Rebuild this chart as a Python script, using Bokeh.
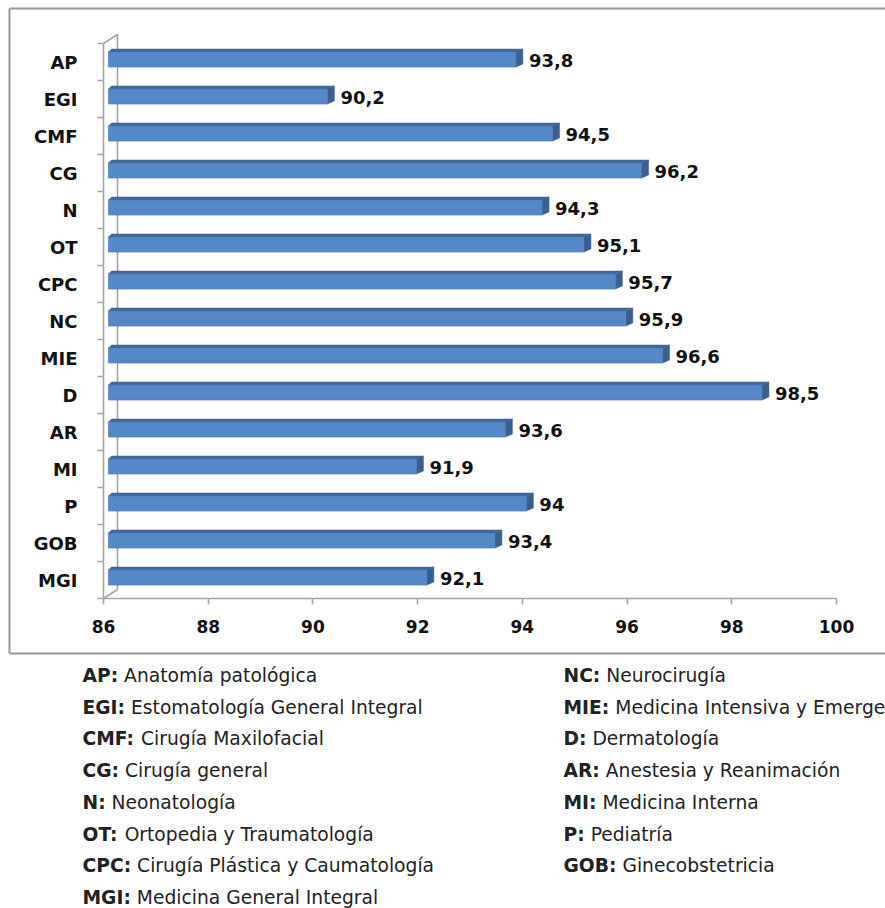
from bokeh.plotting import figure
from bokeh.models import FixedTicker, Range1d, ColumnDataSource, LinearAxis
from bokeh.embed import file_html
from bokeh.resources import INLINE
from bokeh.core.properties import value

# ---------------- data ----------------
categories = ["AP", "EGI", "CMF", "CG", "N", "OT", "CPC", "NC", "MIE", "D", "AR", "MI", "P", "GOB", "MGI"]
values = [93.8, 90.2, 94.5, 96.2, 94.3, 95.1, 95.7, 95.9, 96.6, 98.5, 93.6, 91.9, 94, 93.4, 92.1]
value_labels = ["93,8", "90,2", "94,5", "96,2", "94,3", "95,1", "95,7", "95,9", "96,6", "98,5",
                "93,6", "91,9", "94", "93,4", "92,1"]
x_ticks = [86, 88, 90, 92, 94, 96, 98, 100]
x_start, x_end = 86, 100

legend_left_abbr = ["AP:", "EGI:", "CMF:", "CG:", "N:", "OT:", "CPC:", "MGI:"]
legend_left_name = ["Anatomía patológica", "Estomatología General Integral", "Cirugía Maxilofacial",
                    "Cirugía general", "Neonatología", "Ortopedia y Traumatología",
                    "Cirugía Plástica y Caumatología", "Medicina General Integral"]
legend_right_abbr = ["NC:", "MIE:", "D:", "AR:", "MI:", "P:", "GOB:"]
legend_right_name = ["Neurocirugía", "Medicina Intensiva y Emergencias", "Dermatología",
                     "Anestesia y Reanimación", "Medicina Interna", "Pediatría", "Ginecobstetricia"]

# ---------------- layout constants (canvas pixels) ----------------
W, H = 885, 908
AX_L, AX_R = 103, 836        # pixel of x=86 and x=100
AX_B = 598                   # pixel of the category floor
CAT_PX = 37.0
n = len(categories)

PX_PER_X = (AX_R - AX_L) / (x_end - x_start)
PXX = 1.0 / PX_PER_X
PXY = 1.0 / CAT_PX
xr = Range1d(x_start - AX_L * PXX, x_end + (W - AX_R) * PXX)
yr = Range1d(-(H - AX_B) * PXY, AX_B * PXY)

FRONT = "#5488C6"
TOP = "#3F6797"
SIDE = "#39608F"
GRAY = "#A3A3A3"
FONT = "DejaVu Sans"

p = figure(width=W, height=H, output_backend="svg", toolbar_location=None,
           x_range=xr, y_range=yr, x_axis_location=None, y_axis_location=None, min_border=0)
p.outline_line_color = None
p.grid.visible = False
p.background_fill_color = "white"
p.border_fill_color = "white"
p.extra_x_ranges = {"px": Range1d(0, W)}
p.extra_y_ranges = {"py": Range1d(H, 0)}

# chart box
p.segment(x0=[9, 9, 9], y0=[8, 8, 653], x1=[W + 5, 9, W + 5], y1=[8, 653, 653],
          line_color="#969696", line_width=2, x_range_name="px", y_range_name="py")

yc = [n - i - 0.5 for i in range(n)]

# 3D walls
wdx, wdy = 14 * PXX, 9 * PXY
p.segment(x0=[x_start, x_start, x_start + wdx],
          y0=[n, 0, wdy],
          x1=[x_start + wdx, x_start + wdx, x_start + wdx],
          y1=[n + wdy, wdy, n + wdy],
          line_color=GRAY, line_width=1.6)

# bars
left = [x_start + 5 * PXX] * n
right = [v + 4 * PXX for v in values]
bottom = [c - 5 * PXY for c in yc]
top = [c + 10 * PXY for c in yc]

top_xs, top_ys, side_xs, side_ys = [], [], [], []
for l, r, b, t in zip(left, right, bottom, top):
    top_xs.append([l, l + 3 * PXX, r + 7 * PXX, r])
    top_ys.append([t, t + 3 * PXY, t + 3 * PXY, t])
    side_xs.append([r, r, r + 7 * PXX, r + 7 * PXX])
    side_ys.append([b, t, t + 3 * PXY, b + 3 * PXY])

p.patches(top_xs, top_ys, fill_color=TOP, line_color=TOP, line_width=0.5)
p.patches(side_xs, side_ys, fill_color=SIDE, line_color=SIDE, line_width=0.5)
p.quad(left=left, right=right, bottom=bottom, top=top, fill_color=FRONT,
       line_color="#4A7DB9", line_width=0.7)

src = ColumnDataSource(dict(x=[v + 17 * PXX for v in values], y=[c + 1.5 * PXY for c in yc], t=value_labels))
p.text(x="x", y="y", text="t", source=src, text_font=value(FONT), text_font_style="bold",
       text_font_size="18px", text_color="#111111", text_baseline="middle", text_align="left")

# axes
xa = LinearAxis(fixed_location=0, bounds=(x_start, x_end), ticker=FixedTicker(ticks=x_ticks))
xa.axis_line_color = GRAY
xa.axis_line_width = 1.6
xa.major_tick_line_color = GRAY
xa.major_tick_line_width = 1.6
xa.major_tick_out = 6
xa.major_tick_in = 0
xa.minor_tick_line_color = None
xa.major_label_text_font = FONT
xa.major_label_text_font_style = "bold"
xa.major_label_text_font_size = "17px"
xa.major_label_text_color = "#111111"
xa.major_label_standoff = 15
p.add_layout(xa, "below")

ya = LinearAxis(fixed_location=x_start, bounds=(0, n),
                ticker=FixedTicker(ticks=yc, minor_ticks=list(range(n + 1))))
ya.major_label_overrides = {c: cat for c, cat in zip(yc, categories)}
ya.axis_line_color = GRAY
ya.axis_line_width = 1.6
ya.major_tick_line_color = None
ya.major_tick_out = 0
ya.major_tick_in = 0
ya.minor_tick_line_color = GRAY
ya.minor_tick_line_width = 1.6
ya.minor_tick_out = 6
ya.minor_tick_in = 0
ya.major_label_text_font = FONT
ya.major_label_text_font_style = "bold"
ya.major_label_text_font_size = "18px"
ya.major_label_text_color = "#111111"
ya.major_label_standoff = 20
p.add_layout(ya, "left")

# ---------------- legend (pixel ranges) ----------------
BOLD_W = {"A": 0.774, "B": 0.762, "C": 0.734, "D": 0.830, "E": 0.683, "F": 0.683, "G": 0.821,
          "I": 0.372, "M": 0.995, "N": 0.837, "O": 0.850, "P": 0.733, "R": 0.770, "T": 0.685, ":": 0.400}
LFS = 18.7
SPACE = 0.318 * LFS


def bold_width(s):
    return sum(BOLD_W.get(ch, 0.7) for ch in s) * LFS


ROW0, ROW_STEP = 675, 31.7
cols = [(82, legend_left_abbr, legend_left_name), (563, legend_right_abbr, legend_right_name)]
for cx, abbrs, names in cols:
    ys = [ROW0 + ROW_STEP * i for i in range(len(abbrs))]
    p.text(x=[cx] * len(abbrs), y=ys, text=abbrs, text_font=value(FONT), text_font_style="bold",
           text_font_size=f"{LFS}px", text_color="#222222", text_baseline="middle", text_align="left",
           x_range_name="px", y_range_name="py")
    p.text(x=[cx + bold_width(a) + SPACE for a in abbrs], y=ys, text=names, text_font=value(FONT),
           text_font_size=f"{LFS}px", text_color="#222222", text_baseline="middle", text_align="left",
           x_range_name="px", y_range_name="py")

open("out.html", "w").write(file_html(p, INLINE))
